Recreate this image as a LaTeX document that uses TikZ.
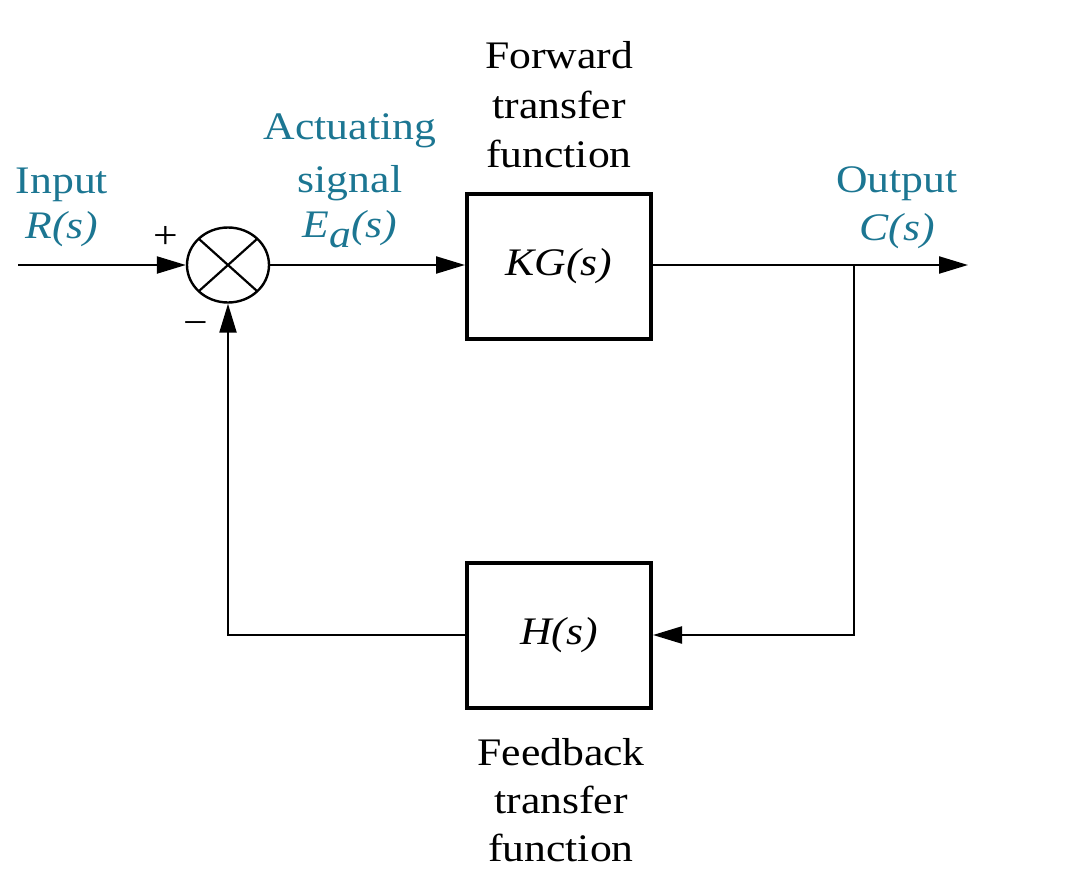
\documentclass[tikz,border=0pt]{standalone}
\usepackage{fontspec}
\setmainfont{Liberation Serif}
\newfontfamily\lblfont{Liberation Serif}[FakeStretch=1.12]
\usetikzlibrary{arrows.meta,shapes.geometric}
\definecolor{lblteal}{RGB}{28,118,146}
\tikzset{
  blockbox/.style={draw, line width=4pt, minimum width=184pt, minimum height=145pt, inner sep=0pt, font=\lblfont\fontsize{39}{50}\selectfont\itshape},
  sumnode/.style={draw, line width=2.4pt, ellipse, minimum width=82pt, minimum height=75pt, inner sep=0pt},
  wire/.style={line width=2.2pt},
  arr/.style={wire, -{Triangle[length=29pt,width=17pt]}},
  blacktxt/.style={anchor=base, inner sep=0pt, font=\lblfont\fontsize{39}{50}\selectfont},
  tealtxt/.style={anchor=base, inner sep=0pt, text=lblteal, font=\lblfont\fontsize{39}{50}\selectfont},
}
\begin{document}
\begin{tikzpicture}[x=1pt,y=-1pt]
\useasboundingbox (0,0) rectangle (1068,870);
% blocks
\node[sumnode] (sum) at (228,265) {};
\draw[line width=2.2pt] ([shift={(-29,-26)}]sum.center) -- ([shift={(29,26)}]sum.center);
\draw[line width=2.2pt] ([shift={(29,-26)}]sum.center) -- ([shift={(-29,26)}]sum.center);
\node[blockbox] (kg) at (559,266) {KG(s)};
\node[blockbox] (h) at (559,635) {H(s)};
% free ends and branch points
\coordinate (in) at (18,265);
\coordinate (out) at (968,265);
\coordinate (br) at (854,265);
\coordinate (brd) at (854,635);
\coordinate (fbl) at (228,635);
% connectors
\draw[arr] (in) -- (sum.west);
\draw[arr] (sum.east) -- (kg.west |- sum.east);
\draw[wire] (kg.east |- br) -- (br);
\draw[arr] (br) -- (out);
\draw[arr] (br) -- (brd) -- (h.east);
\draw[arr] (h.west) -- (fbl) -- (sum.south);
% signs
\node[blacktxt] (plus) at (166,248) {+};
\node[blacktxt] (minus) at (196,335) {−};
% labels
\node[tealtxt] (inp1) at (62,193) {Input};
\node[tealtxt] (inp2) at (62,238) {\textit{R(s)}};
\node[tealtxt] (act1) at (350,139) {Actuating};
\node[tealtxt] (act2) at (350,192) {signal};
\node[tealtxt] (act3) at (350,237) {\textit{E}\raisebox{-10pt}{\textit{a}}\textit{(s)}};
\node[tealtxt] (out1) at (897,192) {Output};
\node[tealtxt] (out2) at (897,240) {\textit{C(s)}};
\node[blacktxt] (fw1) at (559,68) {Forward};
\node[blacktxt] (fw2) at (559,118) {transfer};
\node[blacktxt] (fw3) at (559,167) {function};
\node[blacktxt] (fb1) at (561,765) {Feedback};
\node[blacktxt] (fb2) at (561,813) {transfer};
\node[blacktxt] (fb3) at (561,861) {function};
\end{tikzpicture}
\end{document}
